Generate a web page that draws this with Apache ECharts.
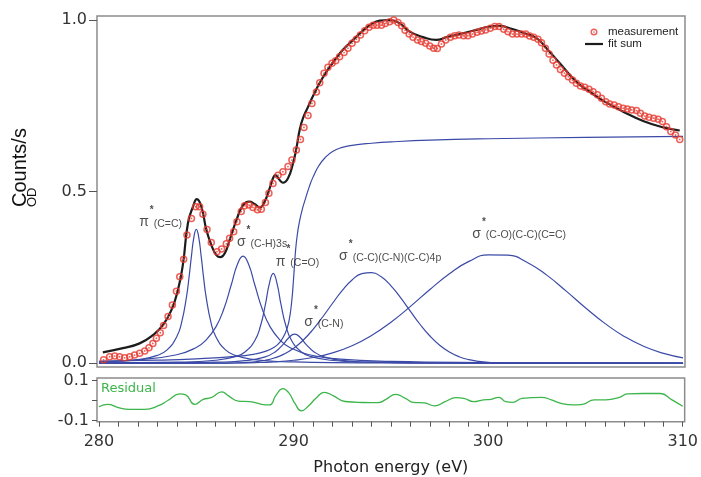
<!DOCTYPE html>
<html><head><meta charset="utf-8">
<script src="https://cdn.jsdelivr.net/npm/echarts@6/dist/echarts.min.js"></script>
<style>html,body{margin:0;padding:0;background:#fff}#c{width:701px;height:477px}</style>
</head><body><div id="c"></div>
<script>
// ---- measurement (red circles) ----
const measEnergy = [
280.24,280.55,280.81,281.06,281.32,281.58,281.83,282.09,282.35,282.57,
282.77,282.95,283.15,283.32,283.55,283.77,283.98,284.15,284.35,284.52,
284.75,284.97,285.17,285.34,285.55,285.77,286.06,286.30,286.54,286.71,
286.92,287.09,287.31,287.48,287.71,287.91,288.14,288.34,288.55,288.73,
288.94,289.20,289.45,289.71,289.91,290.14,290.35,290.53,290.74,290.94,
291.17,291.34,291.56,291.76,291.97,292.16,292.36,292.59,292.79,293.00,
293.22,293.43,293.65,293.87,294.08,294.28,294.51,294.71,294.93,295.14,
295.36,295.55,295.72,295.93,296.13,296.36,296.56,296.78,296.99,297.19,
297.38,297.59,297.81,298.05,298.27,298.49,298.73,298.95,299.18,299.42,
299.64,299.86,300.10,300.33,300.55,300.79,301.01,301.24,301.47,301.70,
301.92,302.12,302.33,302.55,302.73,302.93,303.12,303.32,303.50,303.70,
303.91,304.11,304.32,304.52,304.73,304.95,305.17,305.38,305.60,305.81,
306.03,306.23,306.46,306.68,306.92,307.14,307.36,307.61,307.81,308.03,
308.25,308.49,308.72,308.94,309.15,309.37,309.61,309.83];
const measValue = [
0.010,0.019,0.021,0.019,0.016,0.019,0.024,0.029,0.036,0.045,
0.058,0.073,0.089,0.110,0.136,0.170,0.210,0.252,0.303,0.374,
0.422,0.456,0.456,0.434,0.390,0.352,0.325,0.333,0.348,0.364,
0.383,0.412,0.442,0.459,0.461,0.454,0.447,0.449,0.468,0.495,
0.524,0.548,0.558,0.573,0.592,0.621,0.652,0.687,0.722,0.757,
0.790,0.817,0.845,0.862,0.874,0.881,0.893,0.905,0.918,0.932,
0.944,0.956,0.969,0.979,0.985,0.985,0.985,0.990,0.995,1.000,
0.993,0.983,0.970,0.959,0.950,0.942,0.937,0.932,0.924,0.918,
0.917,0.930,0.942,0.950,0.954,0.956,0.954,0.954,0.959,0.964,
0.968,0.971,0.976,0.981,0.981,0.973,0.966,0.959,0.959,0.959,
0.959,0.953,0.950,0.944,0.934,0.918,0.901,0.883,0.869,0.856,
0.845,0.835,0.825,0.816,0.808,0.804,0.798,0.791,0.782,0.772,
0.762,0.755,0.752,0.747,0.743,0.741,0.738,0.736,0.728,0.720,
0.717,0.714,0.711,0.704,0.689,0.675,0.665,0.652];

// ---- fit sum (black) ----
const fitEnergy = [280.20,281.23,282.09,282.77,283.29,283.72,284.06,284.32,284.57,284.83,
285.03,285.26,285.52,285.77,286.03,286.24,286.46,286.71,287.06,287.40,
287.71,288.00,288.26,288.51,288.77,288.94,289.06,289.28,289.45,289.71,
289.97,290.14,290.31,290.48,290.74,291.00,291.34,291.68,292.11,292.53,
293.05,293.56,293.99,294.42,294.93,295.45,295.96,296.64,297.33,297.85,
298.53,299.39,300.07,300.58,301.10,301.78,302.47,302.98,303.67,304.52,
305.21,305.89,306.92,307.95,308.98,309.83];
const fitValue = [0.032,0.044,0.058,0.082,0.112,0.155,0.214,0.291,0.408,0.456,
0.478,0.456,0.388,0.345,0.315,0.309,0.320,0.359,0.417,0.461,
0.471,0.464,0.454,0.471,0.510,0.539,0.548,0.534,0.526,0.539,
0.583,0.626,0.680,0.714,0.747,0.779,0.817,0.849,0.883,0.913,
0.942,0.969,0.988,0.998,1.000,0.990,0.966,0.950,0.942,0.950,
0.959,0.971,0.981,0.983,0.976,0.963,0.947,0.918,0.874,0.820,
0.791,0.765,0.733,0.706,0.687,0.678];

// ---- fit components (blue) ----
const piCC_E = [280,281,282,283,283.5,284,284.25,284.5,284.625,284.75,284.875,285,285.125,285.25,285.375,285.5,285.75,286,286.5,287,288,289,290,292,295,300,305,310];
const piCC_V = [0.0039,0.006,0.0105,0.0229,0.039,0.078,0.12,0.195,0.2496,0.312,0.367,0.39,0.367,0.312,0.2496,0.195,0.12,0.078,0.039,0.0229,0.0105,0.006,0.0039,0.002,0.001,0.0004,0.0002,0.0002];
const sigCH_E = [280,282,284,285,285.5,286,286.4,286.8,287.1,287.4,287.7,288,288.4,288.8,289.3,289.8,290.8,292.4,295,300,305,310];
const sigCH_V = [0.0056,0.0103,0.0248,0.0462,0.0677,0.1054,0.156,0.2294,0.2862,0.312,0.2862,0.2294,0.156,0.1054,0.0677,0.0462,0.0248,0.012,0.0053,0.002,0.001,0.0006];
const piCO_E = [280,284,286,287,287.5,288,288.3,288.55,288.75,288.95,289.15,289.35,289.6,289.9,290.4,290.9,291.9,293.9,297,302,310];
const piCO_V = [0.001,0.0032,0.0088,0.0193,0.033,0.0658,0.1093,0.1714,0.2314,0.262,0.2314,0.1714,0.1093,0.0658,0.033,0.0193,0.0088,0.0032,0.0012,0.0005,0.0002];
const sigCN_E = [280,284,286,287.5,288.5,289.05,289.45,289.75,290.05,290.35,290.65,291.05,291.6,292.6,294.1,296.1,300,305,310];
const sigCN_V = [0.0005,0.0015,0.0032,0.0076,0.0179,0.0332,0.0544,0.0745,0.085,0.0745,0.0544,0.0332,0.0179,0.0076,0.0032,0.0015,0.0006,0.0002,0.0001];
const sigCC_E = [280,286,287,288,288.5,289,289.5,290,290.5,291,291.5,292,292.5,293,293.5,294,294.5,295,295.5,296,296.5,297,297.5,298,298.5,299,299.5,300,301,302,310];
const sigCC_V = [0,0.0002,0.0009,0.0042,0.0082,0.0153,0.0267,0.0439,0.0679,0.0989,0.1356,0.1749,0.2124,0.2427,0.2611,0.2643,0.2518,0.2257,0.1904,0.1512,0.113,0.0795,0.0526,0.0328,0.0192,0.0106,0.0055,0.0027,0.0005,0.0001,0];
const sigCO_E = [280,285,286,287,288,289,290,291,292,293,294,295,296,297,298,299,300,301,302,303,304,305,306,307,308,309,310];
const sigCO_V = [0,0.0001,0.0003,0.0008,0.0019,0.0043,0.0088,0.0169,0.0304,0.0513,0.081,0.1198,0.1658,0.215,0.261,0.2968,0.3159,0.3149,0.2938,0.2568,0.2101,0.161,0.1155,0.0776,0.0488,0.0288,0.0159];
const step_E = [280,283,285,287,288,288.5,289,289.3,289.55,289.75,289.9,290.0,290.1,290.2,290.3,290.45,290.6,290.8,291.0,291.3,291.6,292.0,292.5,293,294,295,297,300,305,310];
const step_V = [0.006,0.009,0.013,0.02,0.027,0.034,0.047,0.062,0.085,0.12,0.18,0.25,0.33,0.38,0.413,0.45,0.478,0.514,0.543,0.576,0.598,0.617,0.629,0.635,0.641,0.645,0.650,0.654,0.658,0.661];

// ---- residual (green) ----
const resEnergy = [280.00,280.46,280.96,281.56,282.36,283.06,283.56,284.16,284.46,284.92,
285.36,285.76,286.32,286.66,287.16,287.76,288.36,288.76,289.11,289.45,
289.75,290.08,290.40,290.78,291.15,291.58,292.05,292.65,293.55,294.35,
294.75,295.25,295.75,296.16,296.72,297.25,297.79,298.35,298.75,299.25,
299.75,300.15,300.55,300.91,301.25,301.75,302.75,303.25,303.75,304.35,
304.85,305.45,306.05,306.75,307.15,307.95,308.85,309.45,310.00];
const resValue = [-0.030,-0.018,-0.033,-0.043,-0.043,-0.025,0.002,0.034,0.029,-0.018,
0.007,0.015,0.044,0.024,-0.002,-0.005,-0.018,-0.021,0.029,0.060,
0.040,-0.015,-0.051,-0.025,0.012,0.042,0.024,-0.004,-0.009,-0.010,
0.007,0.032,0.012,-0.008,-0.011,-0.026,-0.005,0.015,0.012,-0.005,
0.004,0.007,0.017,-0.005,-0.008,0.012,0.017,0.004,-0.013,-0.021,
-0.018,0.004,0.004,0.017,0.034,0.036,0.036,0.004,-0.028];

// ---- ticks ----
const xTickValues = [280,281,282,283,284,285,286,287,288,289,290,291,292,293,294,295,296,297,298,299,300,301,302,303,304,305,306,307,308,309,310];
const xLabelValues = [280,290,300,310];
const yTickValues = [0,0.5,1.0];
const resTickValues = [-0.1,0,0.1];
const resLabelValues = [-0.1,0.1];

// ---- peak annotations ----
const annoGlyph = ['π','σ','π','σ','σ','σ'];
const annoText = ['(C=C)','(C-H)3s','(C=O)','(C-N)','(C-C)(C-N)(C-C)4p','(C-O)(C-C)(C=C)'];
const annoE = [282.09,287.11,289.11,290.57,292.36,299.2];
const annoV = [0.388,0.33,0.274,0.0967,0.289,0.3545];

const zip = (a,b)=>a.map((x,i)=>[x,b[i]]);
const BLUE = '#3b4aa6', RED = '#e63a30', GREEN = '#3cb54a';
const TICKFONT = 'DejaVu Sans', LABFONT = 'Liberation Sans';
const RING = 'path://M10 0A10 10 0 1 1 -10 0A10 10 0 1 1 10 0ZM6.0 0A6.0 6.0 0 1 0 -6.0 0A6.0 6.0 0 1 0 6.0 0ZM2.4 0A2.4 2.4 0 1 1 -2.4 0A2.4 2.4 0 1 1 2.4 0Z';
const LINEICON = 'path://M0 0H18V2.2H0Z';

const comps = [[piCC_E,piCC_V],[sigCH_E,sigCH_V],[piCO_E,piCO_V],[sigCN_E,sigCN_V],[sigCC_E,sigCC_V],[sigCO_E,sigCO_V],[step_E,step_V]];

const series = comps.map(c=>({type:'line', xAxisIndex:0, yAxisIndex:0, data:zip(c[0],c[1]), smooth:true, symbol:'none', silent:true, z:2,
  lineStyle:{color:BLUE, width:1.2}}));
series.push({name:'fit sum', type:'line', xAxisIndex:0, yAxisIndex:0, data:zip(fitEnergy,fitValue), smooth:true, symbol:'none', z:3,
  lineStyle:{color:'#1c1c1c', width:2.2}, itemStyle:{color:'#1c1c1c'}});
series.push({name:'measurement', type:'scatter', xAxisIndex:0, yAxisIndex:0, data:zip(measEnergy,measValue), symbol:RING, symbolSize:7.5, z:4,
  itemStyle:{color:RED}});
series.push({type:'scatter', xAxisIndex:0, yAxisIndex:0, silent:true, z:5, symbolSize:1, itemStyle:{color:'rgba(0,0,0,0)'},
  data: annoE.map((e,i)=>[e, annoV[i]]),
  label:{show:true, position:[0,0], align:'left', verticalAlign:'bottom',
    formatter: p=>'{g|'+annoGlyph[p.dataIndex]+'}{s|*}{t|'+annoText[p.dataIndex]+'}',
    rich:{
      g:{fontFamily:LABFONT, fontSize:14, color:'#222', lineHeight:24, verticalAlign:'bottom'},
      s:{fontFamily:LABFONT, fontSize:10, fontWeight:'bold', color:'#222', lineHeight:9, verticalAlign:'top', padding:[0,0,0,1]},
      t:{fontFamily:LABFONT, fontSize:10.5, color:'#222', lineHeight:20, verticalAlign:'bottom'}
    }}});
series.push({type:'line', xAxisIndex:1, yAxisIndex:1, data:zip(resEnergy,resValue), smooth:true, symbol:'none', silent:true,
  lineStyle:{color:GREEN, width:1.3}});

const tickStyle = {color:'#555', width:1};
const option = {
  animation:false,
  backgroundColor:'#fff',
  grid:[
    {left:97, top:16, width:588, height:351, show:true, borderColor:'#8c8c8c', borderWidth:1.5},
    {left:97, top:378, width:588, height:43.7, show:true, borderColor:'#8c8c8c', borderWidth:1.5}
  ],
  xAxis:[
    {type:'value', gridIndex:0, min:279.9, max:310.1, axisLine:{show:false, onZero:false}, axisTick:{show:false}, axisLabel:{show:false}, splitLine:{show:false}},
    {type:'value', gridIndex:1, min:279.9, max:310.1, position:'bottom', axisLine:{show:false, onZero:false}, splitLine:{show:false},
      axisTick:{show:true, customValues:xTickValues, length:5, lineStyle:tickStyle},
      axisLabel:{customValues:xLabelValues, fontFamily:TICKFONT, fontSize:16, color:'#333', margin:12},
      name:'Photon energy (eV)', nameLocation:'middle', nameGap:38,
      nameTextStyle:{fontFamily:TICKFONT, fontSize:16, color:'#222'}}
  ],
  yAxis:[
    {type:'value', gridIndex:0, min:-0.0108, max:1.0116, axisLine:{show:false, onZero:false}, splitLine:{show:false},
      axisTick:{show:true, customValues:yTickValues, length:8, lineStyle:tickStyle},
      axisLabel:{customValues:yTickValues, formatter:v=>v.toFixed(1), fontFamily:TICKFONT, fontSize:16, color:'#333', margin:10}},
    {type:'value', gridIndex:1, min:-0.105, max:0.1135, axisLine:{show:false, onZero:false}, splitLine:{show:false},
      axisTick:{show:true, customValues:resTickValues, length:5, lineStyle:tickStyle},
      axisLabel:{customValues:resLabelValues, formatter:v=>v.toFixed(1), fontFamily:TICKFONT, fontSize:16, color:'#333', margin:8}}
  ],
  legend:{left:585, top:26, orient:'vertical', padding:0, itemGap:0, itemWidth:18, itemHeight:7,
    textStyle:{fontFamily:LABFONT, fontSize:11.5, color:'#222'},
    data:[{name:'measurement', icon:RING}, {name:'fit sum', icon:LINEICON}]},
  graphic:[
    {type:'text', x:20.5, y:207, rotation:Math.PI/2, style:{text:'Counts/s', fontFamily:LABFONT, fontSize:20, fill:'#111', align:'left', verticalAlign:'middle'}},
    {type:'text', x:32.5, y:207, rotation:Math.PI/2, style:{text:'OD', fontFamily:LABFONT, fontSize:13, fill:'#111', align:'left', verticalAlign:'middle'}},
    {type:'text', x:101, y:389, style:{text:'Residual', fontFamily:TICKFONT, fontSize:13, fill:GREEN, align:'left', verticalAlign:'middle'}}
  ],
  series
};
const chart = echarts.init(document.getElementById('c'));
chart.setOption(option);
</script></body></html>
